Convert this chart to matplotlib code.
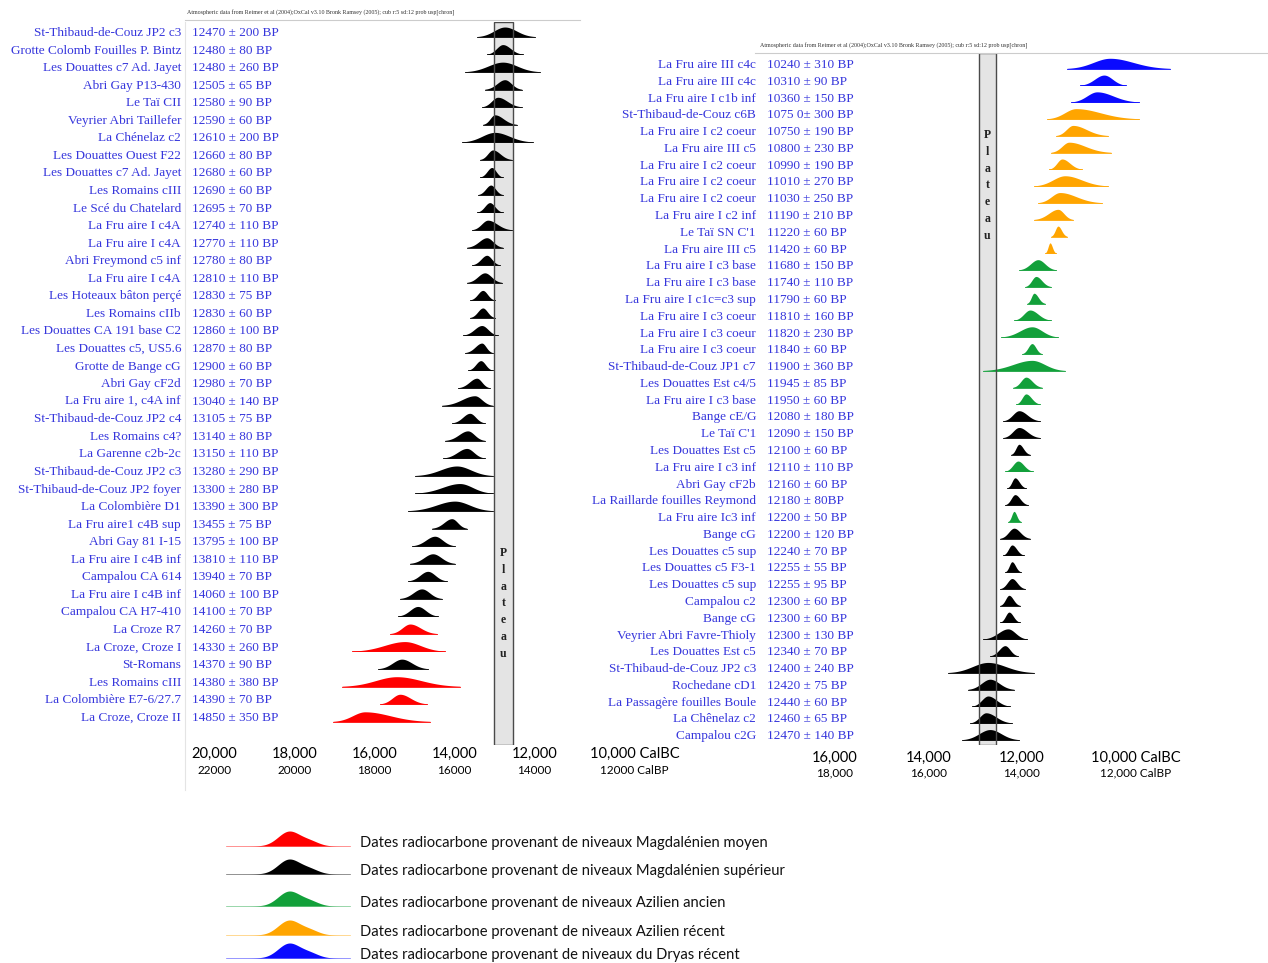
import numpy as np
import matplotlib
matplotlib.use('Agg')
import matplotlib.pyplot as plt
import matplotlib.transforms as mtransforms
from matplotlib.patches import Rectangle

W, H = 1268, 963

# ---------------- data ----------------
left_sites = ['St-Thibaud-de-Couz JP2 c3', 'Grotte Colomb Fouilles P. Bintz', 'Les Douattes c7 Ad. Jayet',
              'Abri Gay P13-430', 'Le Taï CII', 'Veyrier Abri Taillefer', 'La Chénelaz c2',
              'Les Douattes Ouest F22', 'Les Douattes c7 Ad. Jayet', 'Les Romains cIII',
              'Le Scé du Chatelard', 'La Fru aire I c4A', 'La Fru aire I c4A', 'Abri Freymond c5 inf',
              'La Fru aire I c4A', 'Les Hoteaux bâton perçé', 'Les Romains cIIb',
              'Les Douattes CA 191 base C2', 'Les Douattes c5, US5.6', 'Grotte de Bange cG',
              'Abri Gay cF2d', 'La Fru aire 1, c4A inf', 'St-Thibaud-de-Couz JP2 c4', 'Les Romains c4?',
              'La Garenne c2b-2c', 'St-Thibaud-de-Couz JP2 c3', 'St-Thibaud-de-Couz JP2 foyer',
              'La Colombière D1', 'La Fru aire1 c4B sup', 'Abri Gay 81 I-15', 'La Fru aire I c4B inf',
              'Campalou CA 614', 'La Fru aire I c4B inf', 'Campalou CA H7-410', 'La Croze R7',
              'La Croze, Croze I', 'St-Romans', 'Les Romains cIII', 'La Colombière E7-6/27.7',
              'La Croze, Croze II']
left_dates = ['12470 ± 200 BP', '12480 ± 80 BP', '12480 ± 260 BP', '12505 ± 65 BP', '12580 ± 90 BP',
              '12590 ± 60 BP', '12610 ± 200 BP', '12660 ± 80 BP', '12680 ± 60 BP', '12690 ± 60 BP',
              '12695 ± 70 BP', '12740 ± 110 BP', '12770 ± 110 BP', '12780 ± 80 BP', '12810 ± 110 BP',
              '12830 ± 75 BP', '12830 ± 60 BP', '12860 ± 100 BP', '12870 ± 80 BP', '12900 ± 60 BP',
              '12980 ± 70 BP', '13040 ± 140 BP', '13105 ± 75 BP', '13140 ± 80 BP', '13150 ± 110 BP',
              '13280 ± 290 BP', '13300 ± 280 BP', '13390 ± 300 BP', '13455 ± 75 BP', '13795 ± 100 BP',
              '13810 ± 110 BP', '13940 ± 70 BP', '14060 ± 100 BP', '14100 ± 70 BP', '14260 ± 70 BP',
              '14330 ± 260 BP', '14370 ± 90 BP', '14380 ± 380 BP', '14390 ± 70 BP', '14850 ± 350 BP']
# calibrated distributions (cal BC): mode, older end, younger end
left_peak = [12740, 12790, 12790, 12740, 12915, 12990, 12990, 13040, 13065, 13090, 13115, 13165, 13190,
             13190, 13240, 13290, 13290, 13315, 13315, 13340, 13440, 13490, 13615, 13665, 13690, 13940,
             13865, 13990, 14065, 14490, 14540, 14665, 14815, 14915, 15110, 15240, 15315, 15440, 15360,
             16235]
left_old = [13435, 13190, 13740, 13240, 13315, 13290, 13815, 13365, 13365, 13415, 13440, 13565, 13690,
            13565, 13690, 13615, 13615, 13790, 13740, 13665, 13915, 14315, 14065, 14240, 14290, 14990,
            14990, 15165, 14565, 15065, 15115, 15165, 15365, 15415, 15610, 16560, 15910, 16810, 15860,
            17035]
left_young = [11985, 12290, 11865, 12315, 12315, 12440, 12040, 12565, 12790, 12790, 12790, 12565, 12790,
              12865, 12815, 12990, 12990, 12915, 13040, 13040, 13115, 13040, 13240, 13240, 13240, 13040,
              13040, 13040, 13690, 13990, 13990, 14190, 14315, 14415, 14435, 14235, 14660, 13860, 14685,
              14610]
left_period = ['ms'] * 34 + ['mm', 'mm', 'ms', 'mm', 'mm', 'mm']

right_sites = ['La Fru aire III c4c', 'La Fru aire III c4c', 'La Fru aire I c1b inf', 'St-Thibaud-de-Couz c6B',
               'La Fru aire I c2 coeur', 'La Fru aire III c5', 'La Fru aire I c2 coeur', 'La Fru aire I c2 coeur',
               'La Fru aire I c2 coeur', 'La Fru aire I c2 inf', "Le Taï SN C'1", 'La Fru aire III c5',
               'La Fru aire I c3 base', 'La Fru aire I c3 base', 'La Fru aire I c1c=c3 sup',
               'La Fru aire I c3 coeur', 'La Fru aire I c3 coeur', 'La Fru aire I c3 coeur',
               'St-Thibaud-de-Couz JP1 c7', 'Les Douattes Est c4/5', 'La Fru aire I c3 base', 'Bange cE/G',
               "Le Taï C'1", 'Les Douattes Est c5', 'La Fru aire I c3 inf', 'Abri Gay cF2b',
               'La Raillarde fouilles Reymond', 'La Fru aire Ic3 inf', 'Bange cG', 'Les Douattes c5 sup',
               'Les Douattes c5 F3-1', 'Les Douattes c5 sup', 'Campalou c2', 'Bange cG',
               'Veyrier Abri Favre-Thioly', 'Les Douattes Est c5', 'St-Thibaud-de-Couz JP2 c3',
               'Rochedane cD1', 'La Passagère fouilles Boule', 'La Chênelaz c2', 'Campalou c2G']
right_dates = ['10240 ± 310 BP', '10310 ± 90 BP', '10360 ± 150 BP', '1075 0± 300 BP', '10750 ± 190 BP',
               '10800 ± 230 BP', '10990 ± 190 BP', '11010 ± 270 BP', '11030 ± 250 BP', '11190 ± 210 BP',
               '11220 ± 60 BP', '11420 ± 60 BP', '11680 ± 150 BP', '11740 ± 110 BP', '11790 ± 60 BP',
               '11810 ± 160 BP', '11820 ± 230 BP', '11840 ± 60 BP', '11900 ± 360 BP', '11945 ± 85 BP',
               '11950 ± 60 BP', '12080 ± 180 BP', '12090 ± 150 BP', '12100 ± 60 BP', '12110 ± 110 BP',
               '12160 ± 60 BP', '12180 ± 80BP', '12200 ± 50 BP', '12200 ± 120 BP', '12240 ± 70 BP',
               '12255 ± 55 BP', '12255 ± 95 BP', '12300 ± 60 BP', '12300 ± 60 BP', '12300 ± 130 BP',
               '12340 ± 70 BP', '12400 ± 240 BP', '12420 ± 75 BP', '12440 ± 60 BP', '12460 ± 65 BP',
               '12470 ± 140 BP']
right_peak = [10115, 10243, 10393, 10843, 10907, 10992, 11142, 11078, 11185, 11228, 11228, 11399, 11656,
              11699, 11741, 11827, 11784, 11784, 11784, 11913, 11913, 12062, 12062, 12062, 12084, 12148,
              12148, 12169, 12169, 12212, 12212, 12212, 12276, 12276, 12298, 12362, 12726, 12683, 12726,
              12769, 12683]
right_old = [11035, 10757, 10950, 11463, 11271, 11378, 11420, 11741, 11656, 11741, 11378, 11506, 12062,
             11934, 11891, 12169, 12448, 11998, 12833, 12191, 12127, 12405, 12405, 12234, 12362, 12319,
             12362, 12298, 12469, 12405, 12362, 12469, 12469, 12469, 12833, 12683, 13582, 13154, 13068,
             13111, 13282]
right_young = [8831, 9773, 9494, 9494, 10158, 10094, 10714, 10158, 10286, 10907, 11035, 11271, 11271,
               11378, 11506, 11378, 11228, 11570, 11078, 11570, 11613, 11613, 11613, 11827, 11763, 11913,
               11870, 12020, 11827, 11956, 12020, 11934, 12041, 12041, 11891, 12084, 11741, 12169, 12255,
               12212, 12062]
right_period = ['dr'] * 3 + ['ar'] * 9 + ['aa'] * 9 + ['ms', 'ms', 'ms', 'aa', 'ms', 'ms', 'aa'] + ['ms'] * 13

plateau_left = (13010, 12535)
plateau_right = (12920, 12555)

left_ticks_bc = [20000, 18000, 16000, 14000, 12000]
left_ticks_lab = ['20,000', '18,000', '16,000', '14,000', '12,000']
left_ticks_bp = ['22000', '20000', '18000', '16000', '14000']
right_ticks_bc = [16000, 14000, 12000]
right_ticks_lab = ['16,000', '14,000', '12,000']
right_ticks_bp = ['18,000', '16,000', '14,000']

period_colours = {'mm': '#ff0000', 'ms': '#000000', 'aa': '#12a03a', 'ar': '#ffa500', 'dr': '#0a0aff'}
legend_keys = ['mm', 'ms', 'aa', 'ar', 'dr']
legend_labels = ['Dates radiocarbone provenant de niveaux Magdalénien moyen',
                 'Dates radiocarbone provenant de niveaux Magdalénien supérieur',
                 'Dates radiocarbone provenant de niveaux Azilien ancien',
                 'Dates radiocarbone provenant de niveaux Azilien récent',
                 'Dates radiocarbone provenant de niveaux du Dryas récent']
legend_rows_px = [843, 871, 903, 932, 955]

header = 'Atmospheric data from Reimer et al (2004);OxCal v3.10 Bronk Ramsey (2005); cub r:5 sd:12 prob usp[chron]'

label_blue = '#3636dc'
serif = 'Liberation Serif'
sans = 'Lato'

# ---------------- figure ----------------
fig = plt.figure(figsize=(W / 100, H / 100), dpi=100)
fig.patch.set_facecolor('white')


def px_axes(x0, y0, x1, y1):
	return fig.add_axes([x0 / W, 1 - y1 / H, (x1 - x0) / W, (y1 - y0) / H])


def draw_peak(ax, mu, old, young, base, h, colour):
	xs = np.linspace(old, young, 300)
	s = np.where(xs > mu, (old - mu) / 2.6, (mu - young) / 2.6)
	yy = h * np.exp(-0.5 * ((xs - mu) / s) ** 2)
	ax.fill_between(xs, base, base - yy, color=colour, lw=0, zorder=2)
	ax.plot([old, young], [base, base], color=colour, lw=0.6, zorder=2)


def panel(ax, sites, dates, peak, old, young, period, plateau, name_x, date_x, h):
	ax.axis('off')
	trans = mtransforms.blended_transform_factory(fig.transFigure, ax.transData)
	for i in range(len(sites)):
		ax.text(name_x / W, i, sites[i], transform=trans, ha='right', va='center',
				fontsize=9.5, family=serif, color=label_blue)
		ax.text(date_x / W, i, dates[i], transform=trans, ha='left', va='center',
				fontsize=9.5, family=serif, color=label_blue)
		draw_peak(ax, peak[i], old[i], young[i], i + 0.22, h, period_colours[period[i]])
	# plateau box
	ptrans = mtransforms.blended_transform_factory(ax.transData, ax.transAxes)
	ax.add_patch(Rectangle((plateau[0], 0), plateau[1] - plateau[0], 1, transform=ptrans,
						   facecolor='#e4e4e4', edgecolor='none', zorder=1))
	ax.add_patch(Rectangle((plateau[0], 0), plateau[1] - plateau[0], 1, transform=ptrans,
						   facecolor='none', edgecolor='#4a4a4a', lw=1.0, zorder=3))


# left panel
ax1 = px_axes(185, 22, 580, 745)
ax1.set_xlim(20735, 10860)
ax1.set_ylim(40.55, -0.626)
panel(ax1, left_sites, left_dates, left_peak, left_old, left_young, left_period, plateau_left, 181, 192, 0.56)

# right panel
ax2 = px_axes(755, 53, 1268, 745)
ax2.set_xlim(17712, 6734)
ax2.set_ylim(40.52, -0.715)
panel(ax2, right_sites, right_dates, right_peak, right_old, right_young, right_period, plateau_right, 756, 767, 0.62)

# "Plateau" written letter by letter
for ax, y0 in [(ax1, 553), (ax2, 135)]:
	xm = sum(plateau_left if ax is ax1 else plateau_right) / 2
	tr = mtransforms.blended_transform_factory(ax.transData, fig.transFigure)
	for k, ch in enumerate('Plateau'):
		ax.text(xm, 1 - (y0 + 16.8 * k) / H, ch, transform=tr, ha='center', va='center',
				fontsize=8.5, family=serif, fontweight='bold', color='#222222', zorder=4)

# x axis labels (cal BC and cal BP)
for ax, ticks, labs, bps, y1, y2 in [(ax1, left_ticks_bc, left_ticks_lab, left_ticks_bp, 754, 770),
									  (ax2, right_ticks_bc, right_ticks_lab, right_ticks_bp, 758, 773)]:
	tr = mtransforms.blended_transform_factory(ax.transData, fig.transFigure)
	for t, lab, bp in zip(ticks, labs, bps):
		ax.text(t, 1 - y1 / H, lab, transform=tr, ha='center', va='center', fontsize=10.5, family=sans)
		ax.text(t, 1 - y2 / H, bp, transform=tr, ha='center', va='center', fontsize=8.5, family=sans)
	tr_off = mtransforms.offset_copy(tr, fig=fig, x=20, y=0, units='dots')
	ax.text(10000, 1 - y1 / H, '10,000 CalBC', transform=tr_off, ha='center', va='center',
			fontsize=10.5, family=sans)
	bp_last = '12000 CalBP' if ax is ax1 else '12,000 CalBP'
	ax.text(10000, 1 - y2 / H, bp_last, transform=tr_off, ha='center', va='center',
			fontsize=8.5, family=sans)

# headers
fig.text(187 / W, 1 - 13 / H, header, fontsize=4.3, family=serif, color='#333333', va='center')
fig.text(760 / W, 1 - 46 / H, header, fontsize=4.3, family=serif, color='#333333', va='center')
fig.add_artist(plt.Line2D([185 / W, 580 / W], [1 - 20 / H, 1 - 20 / H], color='#cccccc', lw=0.8))
fig.add_artist(plt.Line2D([755 / W, 1268 / W], [1 - 53 / H, 1 - 53 / H], color='#cccccc', lw=0.8))
fig.add_artist(plt.Line2D([185 / W, 185 / W], [1 - 22 / H, 1 - 790 / H], color='#e4e4e4', lw=0.8))

# legend
axl = px_axes(220, 815, 355, 963)
axl.axis('off')
axl.set_xlim(0, 135)
axl.set_ylim(148, 0)
lx = np.linspace(6, 130, 300)
shape = np.exp(-0.5 * ((lx - 69) / 11) ** 2) + 0.3 * np.exp(-0.5 * ((lx - 90) / 9) ** 2)
shape = shape / shape.max() * 15
for k, key in enumerate(legend_keys):
	base = legend_rows_px[k] + 3 - 815
	axl.fill_between(lx, base, base - shape, color=period_colours[key], lw=0)
	axl.plot([6, 130], [base, base], color=period_colours[key], lw=0.5, alpha=0.6)
	fig.text(360 / W, 1 - legend_rows_px[k] / H, legend_labels[k], fontsize=10.6, family=sans,
			 va='center', ha='left', color='#111111')

plt.savefig('out.png', dpi=100)
